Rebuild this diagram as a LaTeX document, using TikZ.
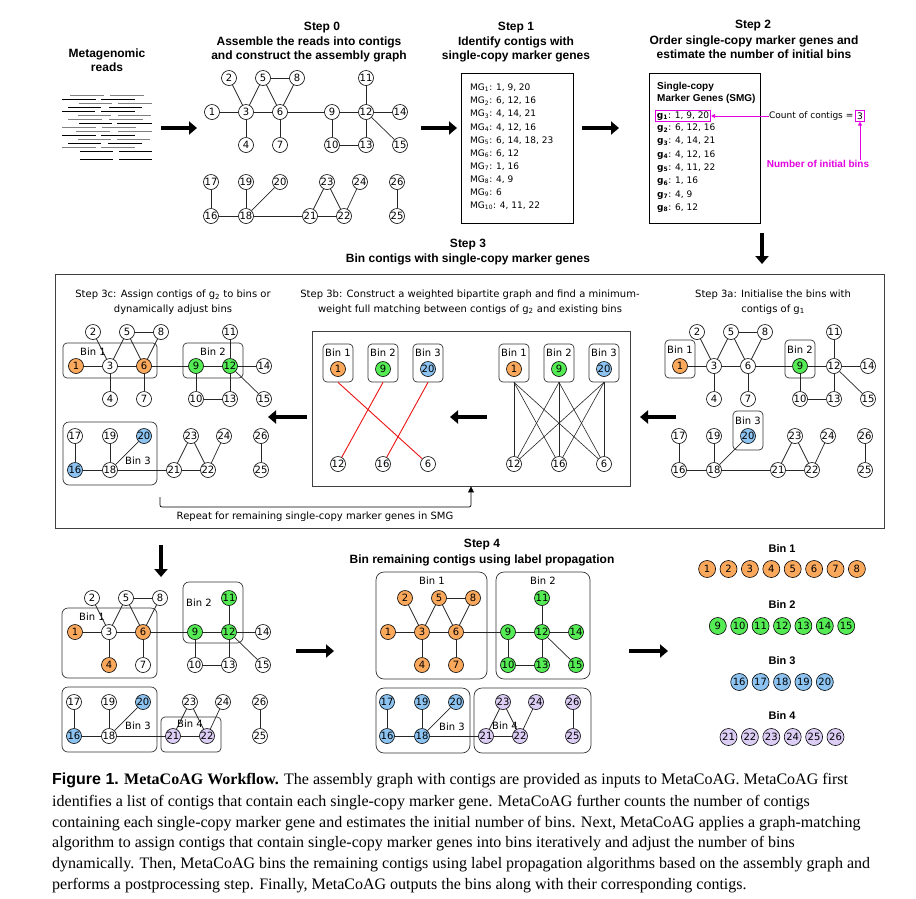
\documentclass[tikz,border=0pt]{standalone}
\usepackage{fontspec}
\setmainfont{DejaVu Sans}
\newfontfamily\headfont{Liberation Sans}
\newfontfamily\capfont{Liberation Serif}
\usetikzlibrary{arrows.meta}

\definecolor{binA}{RGB}{250,168,92}
\definecolor{binB}{RGB}{85,235,85}
\definecolor{binC}{RGB}{140,195,240}
\definecolor{binD}{RGB}{220,205,245}
\definecolor{smgpink}{RGB}{225,0,225}
\definecolor{matchred}{RGB}{235,20,20}

\tikzset{
  contig/.style={circle,draw,line width=0.6pt,inner sep=0pt,minimum size=15pt,fill=white,font=\fontsize{10}{10}\selectfont},
  outnode/.style={minimum size=17pt},
  fA/.style={fill=binA}, fB/.style={fill=binB}, fC/.style={fill=binC}, fD/.style={fill=binD},
  edge/.style={line width=0.7pt,draw=black!85},
  binbox/.style={draw=black!80,line width=0.7pt,rounded corners=4pt},
  bigbin/.style={draw=black!80,line width=0.7pt,rounded corners=8pt},
  binlab/.style={inner sep=0pt,font=\fontsize{10}{10}\selectfont},
  heading/.style={align=center,inner sep=0pt,font=\headfont\bfseries\fontsize{12}{14}\selectfont},
  substep/.style={align=center,inner sep=0pt,font=\fontsize{10}{14.5}\selectfont},
  listbox/.style={draw,line width=0.8pt},
  listline/.style={anchor=west,inner sep=0pt,font=\fontsize{9}{9}\selectfont},
  bigarrow/.style={line width=4pt,-{Triangle[length=8pt,width=13pt]}},
  pinkarrow/.style={smgpink,line width=0.8pt,-{Triangle[length=4pt,width=4pt]}},
  outlab/.style={inner sep=0pt,font=\headfont\bfseries\fontsize{11}{11}\selectfont},
  capline/.style={anchor=base west,inner sep=0pt,font=\capfont\fontsize{16}{21}\selectfont},
}

% one copy of the assembly graph, node 1 at #2
\newcommand\contiggraph[3]{%
  \begin{scope}[shift={#2},#3]
    \foreach \n/\x/\y in {1/0/0,2/17/-34,3/34/0,4/34/33,5/51/-34,6/68/0,7/68/33,8/85/-34,
        9/120/0,10/120/33,11/154/-34,12/154/0,13/154/33,14/188/0,15/188/33,
        16/-1/104,17/-1/70,18/34/104,19/34/70,20/68/70,21/98/104,22/132/104,
        23/115/70,24/148/70,25/185/104,26/185/70}
      \node[contig,n\n/.try,tint/.try=\n] (#1\n) at (\x,\y) {\n};
    \foreach \a/\b in {1/3,2/3,3/5,5/8,5/6,8/6,3/6,3/4,6/7,6/9,9/12,11/12,12/14,12/13,
        12/15,9/10,10/13,17/16,16/18,19/18,18/20,18/21,21/23,23/22,24/22,21/22,26/25}
      \draw[edge] (#1\a) -- (#1\b);
  \end{scope}}

\begin{document}
\begin{tikzpicture}[x=1pt,y=-1pt]
\path[use as bounding box,fill=white] (0,0) rectangle (916,898);

% reads
\node[heading] (readsT) at (107,60) {Metagenomic\\reads};
\foreach \y/\xa/\xb/\xc/\xd/\c in {95/70/104/110/144/gray,99/62/96/101/135/black,
    103/79/112/118/152/gray,107/68/101/109/142/black,111/62/95/101/135/black,
    115/78/111/118/151/gray,119/68/102/109/143/gray,123/79/112/117/152/black,
    127/62/96/102/136/gray,131/76/110/118/152/gray,135/62/96/101/135/black,
    139/78/111/117/150/gray,143/68/101/108/142/black,147/62/96/101/135/gray,
    151/80/113/119/152/black,159/80/113/119/152/black}
  \draw[\c,line width=0.9pt] (\xa,\y) -- (\xb,\y) (\xc,\y) -- (\xd,\y);

% step 0
\node[heading] (s0a) at (322,28) {Step 0};
\node[heading] (s0b) at (309,49) {Assemble the reads into contigs\\and construct the assembly graph};
\contiggraph{z}{(212,112)}{}

% step 1
\node[heading] (s1a) at (516,28) {Step 1};
\node[heading] (s1b) at (516,49) {Identify contigs with\\single-copy marker genes};
\node[listbox,minimum width=112pt,minimum height=150pt] (mgbox) at (517,148) {};
\foreach \i/\t in {1/{1, 9, 20},2/{6, 12, 16},3/{4, 14, 21},4/{4, 12, 16},5/{6, 14, 18, 23},
    6/{6, 12},7/{1, 16},8/{4, 9},9/{6},10/{4, 11, 22}}
  \node[listline] (mg\i) at (470,{88+13.1*(\i-1)}) {MG\textsubscript{\i}: \t};

% step 2
\node[heading] (s2a) at (753,26) {Step 2};
\node[heading] (s2b) at (754,47.5) {Order single-copy marker genes and\\estimate the number of initial bins};
\node[listbox,minimum width=111pt,minimum height=150pt] (smgbox) at (704.5,148) {};
\node[anchor=west,align=left,inner sep=0pt,font=\headfont\bfseries\fontsize{10}{12}\selectfont] (smgT) at (657,93) {Single-copy\\Marker Genes (SMG)};
\node[listline,draw=smgpink,line width=0.8pt,inner sep=1.5pt] (g1) at (655,116) {\textbf{g}\textsubscript{\textbf{1}}: 1, 9, 20};
\foreach \i/\t in {2/{6, 12, 16},3/{4, 14, 21},4/{4, 12, 16},5/{4, 11, 22},6/{1, 16},7/{4, 9},8/{6, 12}}
  \node[listline] (g\i) at (657,{115+13.3*(\i-1)}) {\textbf{g}\textsubscript{\textbf{\i}}: \t};
\node[listline] (cnt) at (769,116) {Count of contigs =};
\node[draw=smgpink,line width=0.8pt,inner sep=1.8pt,font=\fontsize{9}{9}\selectfont] (three) at (860,116) {3};
\node[inner sep=0pt,text=smgpink,font=\headfont\bfseries\fontsize{10}{10}\selectfont] (nib) at (818,164) {Number of initial bins};
\draw[pinkarrow] (cnt.west) -- (g1.east);
\draw[pinkarrow] (nib.north -| three.south) -- (three.south);

% step 3
\node[heading] (s3a) at (468,245) {Step 3};
\node[heading] (s3b) at (468,259) {Bin contigs with single-copy marker genes};
\node[draw=black!75,line width=0.9pt,minimum width=829pt,minimum height=254pt] (stepthree) at (469.5,401) {};

% step 3a
\node[substep] (t3a) at (773,302) {Step 3a: Initialise the bins with\\contigs of g\textsubscript{1}};
\draw[binbox] (665,340) rectangle (695,378);
\draw[binbox] (785,340) rectangle (815,378);
\draw[binbox] (733,411) rectangle (763,450);
\node[binlab] (a3b1) at (680,350) {Bin 1};
\node[binlab] (a3b2) at (800,350) {Bin 2};
\node[binlab] (a3b3) at (748,421) {Bin 3};
\contiggraph{a}{(680,366)}{n1/.style=fA,n9/.style=fB,n20/.style=fC}

% step 3b
\node[substep] (t3b) at (470,302) {Step 3b: Construct a weighted bipartite graph and find a minimum-\\weight full matching between contigs of g\textsubscript{2} and existing bins};
\node[draw=black!75,line width=0.9pt,minimum width=318pt,minimum height=155pt] (bip) at (471,408.5) {};
\foreach \k/\n/\f in {1/1/fA,2/9/fB,3/20/fC}{
  \node[binbox,minimum width=30pt,minimum height=38pt] (lB\k) at ({338+45*(\k-1)},363) {};
  \node[binlab] (lT\k) at ({338+45*(\k-1)},353) {Bin \k};
  \node[contig,\f] (lC\k) at ({338+45*(\k-1)},369) {\n};
  \node[binbox,minimum width=30pt,minimum height=38pt] (rB\k) at ({514+45*(\k-1)},363) {};
  \node[binlab] (rT\k) at ({514+45*(\k-1)},353) {Bin \k};
  \node[contig,\f] (rC\k) at ({514+45*(\k-1)},369) {\n};
}
\foreach \k/\n in {1/12,2/16,3/6}{
  \node[contig] (lb\n) at ({338+45*(\k-1)},464) {\n};
  \node[contig] (rb\n) at ({514+45*(\k-1)},464) {\n};
}
\foreach \k in {1,2,3}
  \foreach \n in {12,16,6}
    \draw[edge,line width=0.6pt] (rB\k.south) -- (rb\n);
\draw[matchred,line width=0.9pt] (lB1.south) -- (lb6);
\draw[matchred,line width=0.9pt] (lB2.south) -- (lb12);
\draw[matchred,line width=0.9pt] (lB3.south) -- (lb16);

% step 3c
\node[substep] (t3c) at (173,302) {Step 3c: Assign contigs of g\textsubscript{2} to bins or\\dynamically adjust bins};
\draw[binbox] (63,343) rectangle (157,378);
\draw[binbox] (183,343) rectangle (243,378);
\draw[binbox,rounded corners=6pt] (63,422) rectangle (157,485);
\node[binlab] (c3b1) at (93,352) {Bin 1};
\node[binlab] (c3b2) at (213,352) {Bin 2};
\node[binlab] (c3b3) at (138,461) {Bin 3};
\contiggraph{c}{(76,366)}{n1/.style=fA,n6/.style=fA,n9/.style=fB,n12/.style=fB,n16/.style=fC,n20/.style=fC}

% repeat loop
\coordinate (rep0) at (160,497);
\draw[line width=0.7pt,rounded corners=2pt,-{Triangle[length=6pt,width=6pt]}] (rep0) -- ++(0,10) -| (bip.south);
\node[inner sep=0pt,font=\fontsize{10}{10}\selectfont] (repT) at (315,517) {Repeat for remaining single-copy marker genes in SMG};

% after step 3
\draw[binbox,rounded corners=6pt] (62,608) rectangle (157,678);
\draw[binbox,rounded corners=6pt] (183,582) rectangle (243,643);
\draw[binbox,rounded corners=6pt] (62,687) rectangle (157,752);
\draw[binbox] (161,717) rectangle (221,752);
\node[binlab] (p3b1) at (92,617) {Bin 1};
\node[binlab] (p3b2) at (199,603) {Bin 2};
\node[binlab] (p3b3) at (138,726) {Bin 3};
\node[binlab] (p3b4) at (190,724) {Bin 4};
\contiggraph{p}{(75,632)}{n1/.style=fA,n4/.style=fA,n6/.style=fA,n9/.style=fB,n11/.style=fB,n12/.style=fB,n16/.style=fC,n20/.style=fC,n21/.style=fD,n22/.style=fD}

% step 4
\node[heading] (s4a) at (482,545) {Step 4};
\node[heading] (s4b) at (482,560) {Bin remaining contigs using label propagation};
\draw[bigbin] (376,572) rectangle (487,679);
\draw[bigbin] (496,572) rectangle (590,679);
\draw[bigbin] (376,688) rectangle (470,753);
\draw[bigbin] (474,688) rectangle (591,753);
\node[binlab] (f4b1) at (432,581) {Bin 1};
\node[binlab] (f4b2) at (543,581) {Bin 2};
\node[binlab] (f4b3) at (452,727) {Bin 3};
\node[binlab] (f4b4) at (505,726) {Bin 4};
\contiggraph{f}{(388,632)}{tint/.code={\ifnum#1<9 \pgfkeysalso{fA}\else\ifnum#1<16 \pgfkeysalso{fB}\else\ifnum#1<21 \pgfkeysalso{fC}\else\pgfkeysalso{fD}\fi\fi\fi}}

% final bins
\node[outlab] (ob1) at (782,549) {Bin 1};
\node[outlab] (ob2) at (782,605) {Bin 2};
\node[outlab] (ob3) at (782,661) {Bin 3};
\node[outlab] (ob4) at (782,716) {Bin 4};
\foreach \i in {1,...,8} \node[contig,outnode,fA] (o\i) at ({782+21.4*(\i-4.5)},569) {\i};
\foreach \i in {9,...,15} \node[contig,outnode,fB] (o\i) at ({782+21.4*(\i-12)},626) {\i};
\foreach \i in {16,...,20} \node[contig,outnode,fC] (o\i) at ({782+21.4*(\i-18)},682) {\i};
\foreach \i in {21,...,26} \node[contig,outnode,fD] (o\i) at ({782+21.4*(\i-23.5)},737) {\i};

% big arrows
\coordinate (ar1s) at (161,128); \coordinate (ar1e) at (197,128);
\coordinate (ar2s) at (421,128); \coordinate (ar2e) at (457,128);
\coordinate (ar3s) at (582,128); \coordinate (ar3e) at (619,128);
\coordinate (ar4s) at (762,233); \coordinate (ar4e) at (762,264);
\coordinate (ar5s) at (676,417); \coordinate (ar5e) at (640,417);
\coordinate (ar6s) at (487,417); \coordinate (ar6e) at (450,417);
\coordinate (ar7s) at (307,417); \coordinate (ar7e) at (268,417);
\coordinate (ar8s) at (161,545); \coordinate (ar8e) at (161,577);
\coordinate (ar9s) at (296,651); \coordinate (ar9e) at (334,651);
\coordinate (ar10s) at (629,651); \coordinate (ar10e) at (668,651);
\foreach \k in {1,...,10} \draw[bigarrow] (ar\k s) -- (ar\k e);

% caption
\node[capline] (cap1) at (52,784) {{\headfont\bfseries Figure 1.} \textbf{MetaCoAG Workflow.} The assembly graph with contigs are provided as inputs to MetaCoAG. MetaCoAG first};
\node[capline] (cap2) at (52,806) {identifies a list of contigs that contain each single-copy marker gene. MetaCoAG further counts the number of contigs};
\node[capline] (cap3) at (52,827) {containing each single-copy marker gene and estimates the initial number of bins. Next, MetaCoAG applies a graph-matching};
\node[capline] (cap4) at (52,847) {algorithm to assign contigs that contain single-copy marker genes into bins iteratively and adjust the number of bins};
\node[capline] (cap5) at (52,868) {dynamically. Then, MetaCoAG bins the remaining contigs using label propagation algorithms based on the assembly graph and};
\node[capline] (cap6) at (52,889) {performs a postprocessing step. Finally, MetaCoAG outputs the bins along with their corresponding contigs.};
\end{tikzpicture}
\end{document}
